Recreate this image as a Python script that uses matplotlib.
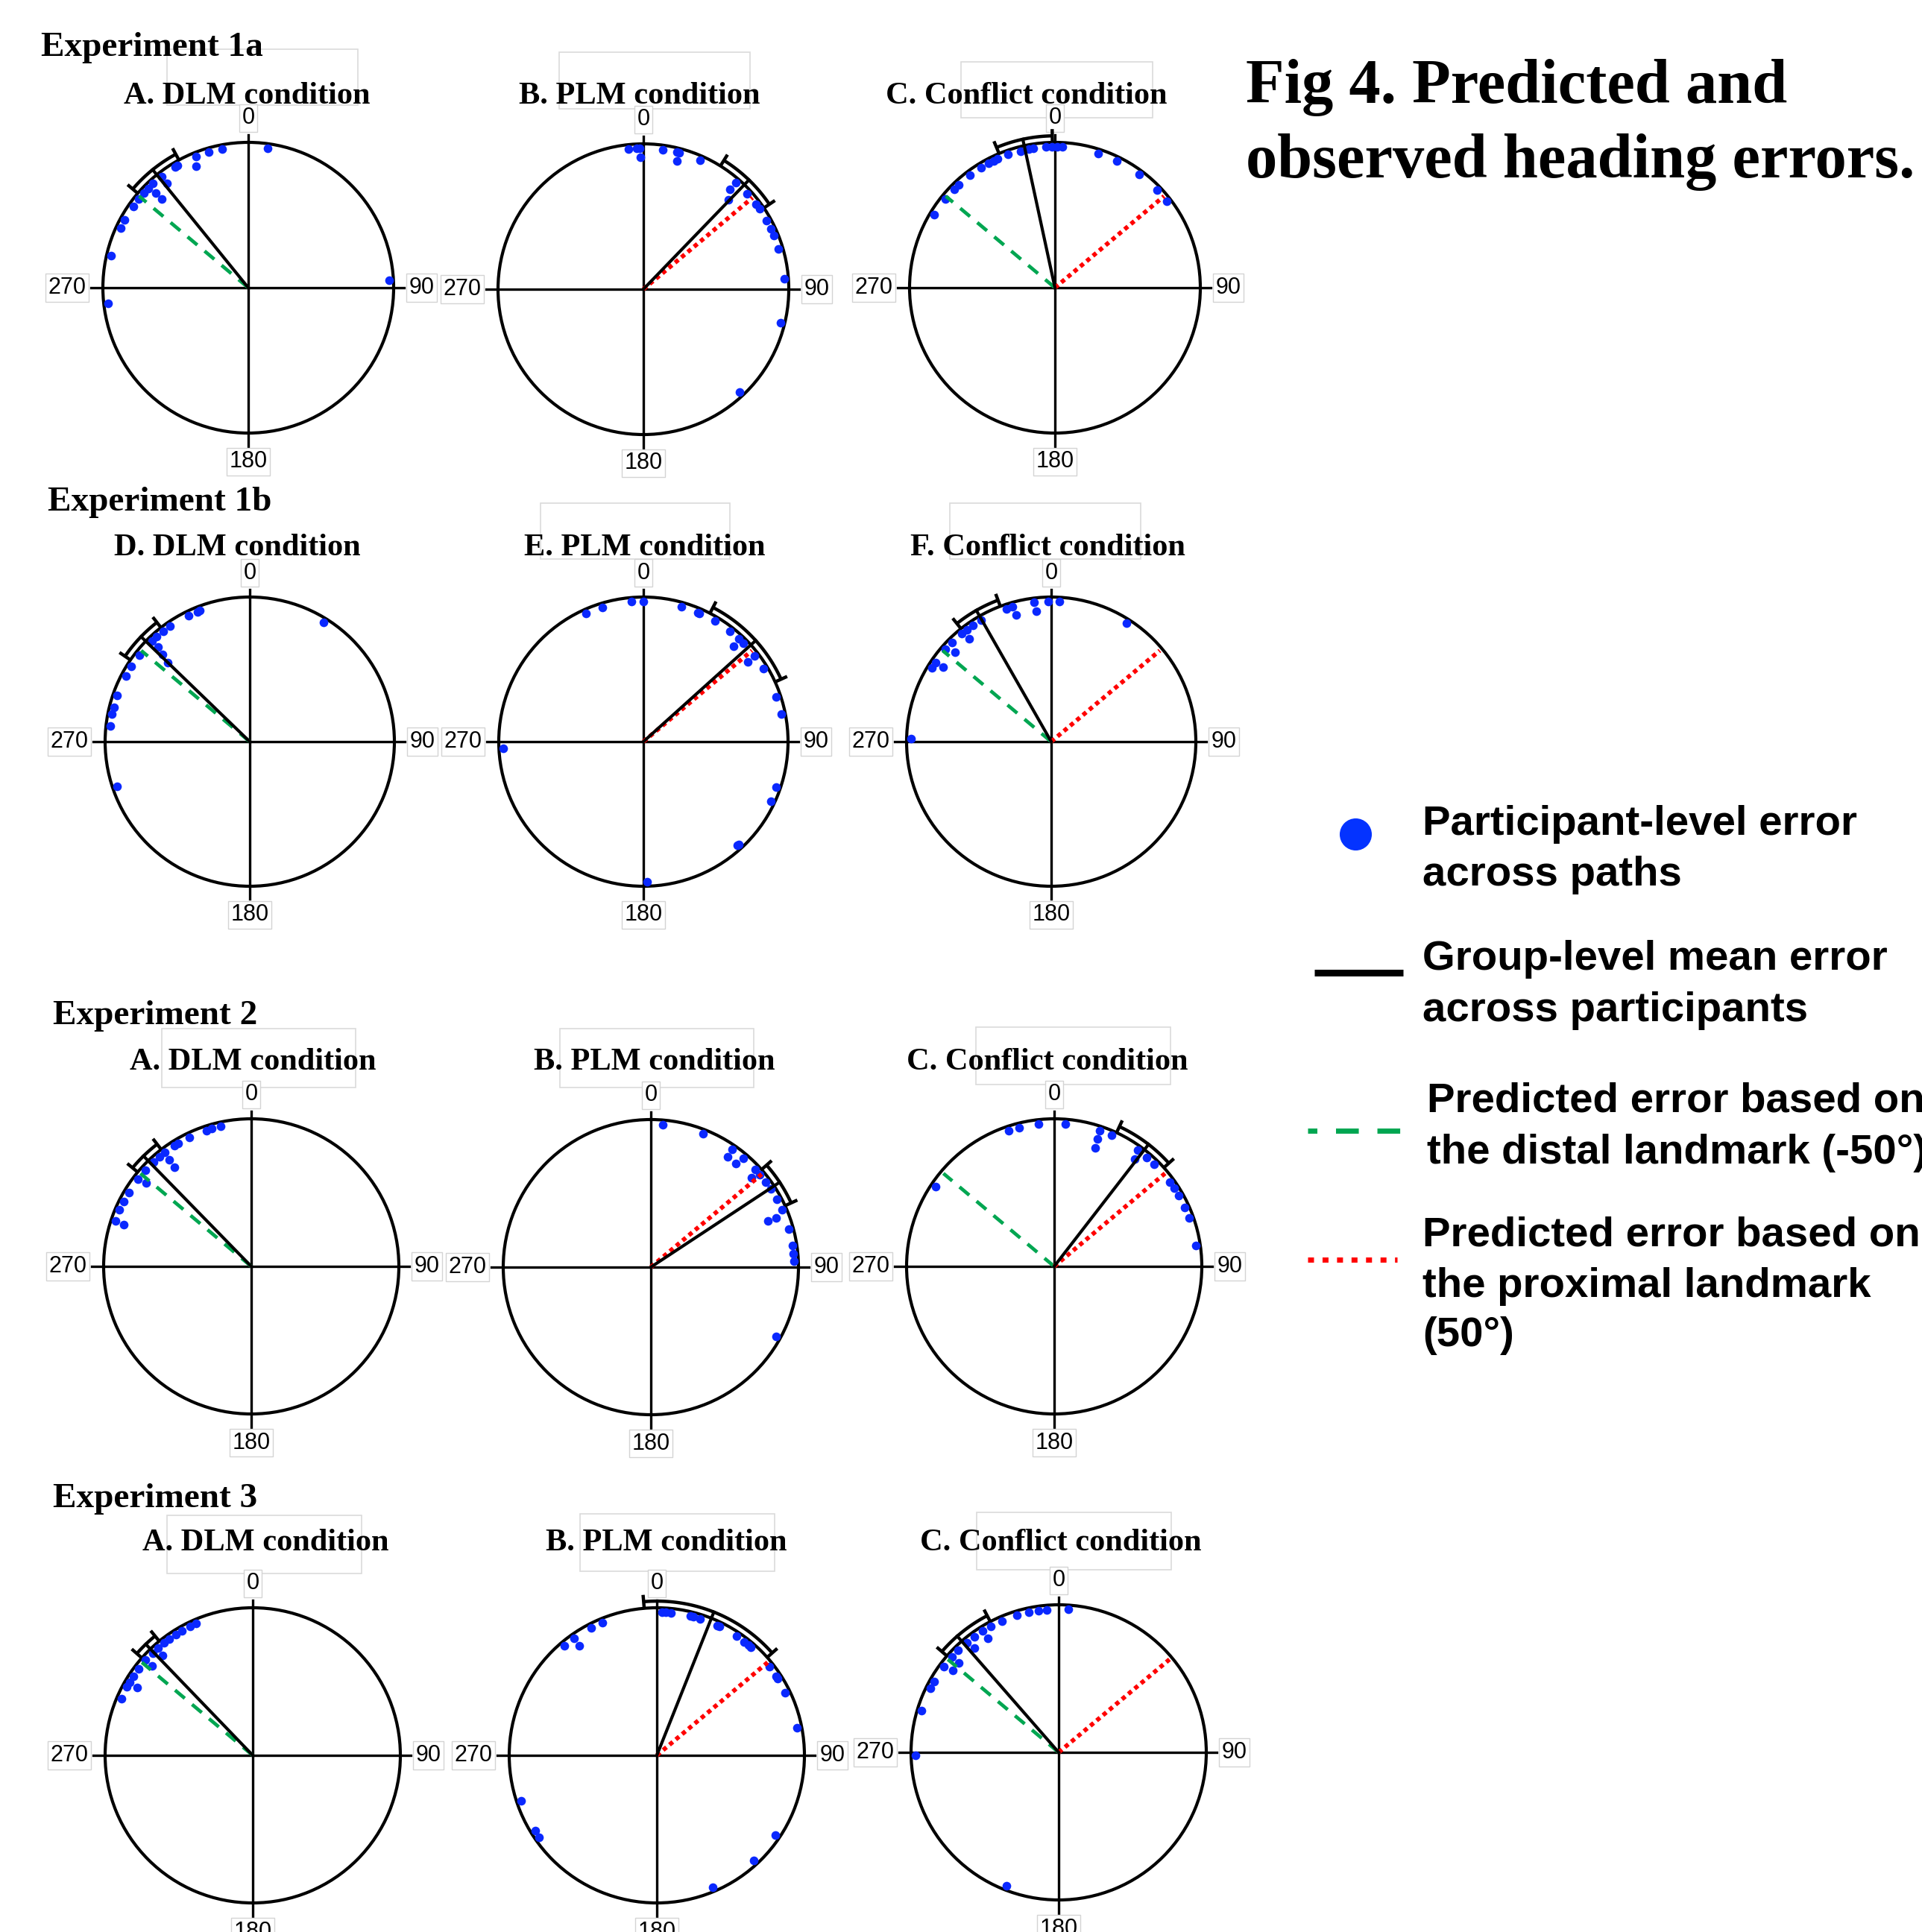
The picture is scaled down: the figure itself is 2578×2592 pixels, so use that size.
import numpy as np
import matplotlib.pyplot as plt
from matplotlib.patches import Rectangle

W, H = 2578, 2592

# heading errors (deg, clockwise from 0)
# *_in : points drawn one row inside the circle (stacked)
e1a_dlm = [8, -10.8, -16.2, -21.8, -30.1, -31.1, -38, -42.4, -45.3, -47.8, -51.2,
           -54.7, -61.1, -65, -77, -96.3, 87.1]
e1a_dlm_in = [-23.2, -37.9, -44.3, -44.2]
e1a_plm = [-6, -2.7, -1.4, 8, 13.7, 14.7, 23.7, 41, 47.3, 52.8, 55.3, 60.8, 64.6,
           67.7, 73.4, 85.9, 103.7, 137]
e1a_plm_in = [-1.2, 14.6, 40.8, 43.6]
e1a_con = [-58.8, -51, -45.6, -43, -37, -31.7, -28.2, -25.7, -23.9, -19.3, -14.2,
           -10.6, -8.7, -3.5, -1.2, 1, 3, 17.9, 26.1, 36.5, 46.2, 52.3]
e1a_con_in = []

e1b_dlm = [-20.7, -22, -25.9, 31.9, -34.7, -38.2, -41.7, -44, -52, -57.4, -62.2,
           -70.9, -75.7, -78.8, -83.6, -108.6]
e1b_dlm_in = [-44, -45, -46]
e1b_plm = [-24.1, -16.9, -4.8, 0, 15.6, 22.9, 23.6, 30.6, 38, 42.8, 45.6, 52.5,
           58.6, 71.5, 78.7, -92.6, 109, 115, 137, 137.8, 178.4]
e1b_plm_in = [43.4, 52.6]
e1b_con = [-88.7, -58.3, -55.7, -48.8, -44.9, -39.7, -36.9, -33.8, -29.9, -18.7,
           -15.9, -7.1, -1.3, 3.3, 32.4]
e1b_con_in = [-55.4, -47, -38.7, -15.3, -6.6]

e2_dlm = [-12.2, -16, -18.2, -25.5, -30.8, -32.6, -37.2, -39.9, -43, -47.7, -52.5,
          -58.9, -63.1, -66.8, -71.5]
e2_dlm_in = [-37.7, -37.6, -51.5, -72]
e2_plm = [4.9, 21.5, 34.6, 40.4, 46.8, 49.7, 53.5, 56.7, 61.7, 66.4, 74.5, 81.4,
          84.6, 87.6, 118.9]
e2_plm_in = [34.7, 39.4, 48.4, 68.5, 68.5]
e2_con = [-56.1, -18.4, -14.3, -6.2, 4.6, 18.5, 23.6, 35.8, 40.4, 44.3, 54, 56.8,
          60.4, 65.8, 70.3, 81.6]
e2_con_in = [18.7, 18.9, 36.7]

e3_dlm = [-23.2, -25.9, -29.5, -32.4, -35.5, -38.2, -41.5, -44.4, -48.4, -52.8,
          -56.5, -59.4, -61.4, -66.7]
e3_dlm_in = [-42, -48.4, -59.6]
e3_plm = [2, 3.6, 5.7, 13.5, 14.9, 17.7, 25, 25.8, 33.7, 37.5, 39.7, 41, 51.9, 56.6,
          57.5, 63.9, 78.8, 123.9, 137.2, 157, -108.6, -121.8, -124.9, -40.1, -35.3,
          -27.3, -22.2]
e3_plm_in = [-35.3]
e3_con = [-91.2, -73.1, -63.4, -60.3, -53.2, -48.2, -44.5, -39.9, -36.2, -32.2,
          -28.3, -23.3, -17.1, -12, -8, -4.8, 3.9, -158.7]
e3_con_in = [-52.2, -48.2, -38.8, -31.9]

# group mean and its confidence arc
means = [[-39, 44, -12.2], [-46, 48, -29.7], [-44.3, 56.6, 37.7], [-43.9, 21.7, -41.1]]
cis = [[(-49.5, -28.5), (32, 56), (-22.6, -1)],
       [(-55.6, -37.9), (27.4, 65.6), (-38.6, -20.6)],
       [(-50.3, -37.6), (48.6, 65.4), (25, 48)],
       [(-48.7, -39.3), (-4.9, 48.4), (-49.2, -27.6)]]

pred_distal = -50
pred_proximal = 50

points = [[e1a_dlm, e1a_plm, e1a_con], [e1b_dlm, e1b_plm, e1b_con],
          [e2_dlm, e2_plm, e2_con], [e3_dlm, e3_plm, e3_con]]
points_in = [[e1a_dlm_in, e1a_plm_in, e1a_con_in], [e1b_dlm_in, e1b_plm_in, e1b_con_in],
             [e2_dlm_in, e2_plm_in, e2_con_in], [e3_dlm_in, e3_plm_in, e3_con_in]]

row_titles = ["Experiment 1a", "Experiment 1b", "Experiment 2", "Experiment 3"]
panel_titles = [["A. DLM condition", "B. PLM condition", "C. Conflict condition"],
                ["D. DLM condition", "E. PLM condition", "F. Conflict condition"],
                ["A. DLM condition", "B. PLM condition", "C. Conflict condition"],
                ["A. DLM condition", "B. PLM condition", "C. Conflict condition"]]

# layout (pixels)
centers = [[(333, 386), (863, 388), (1415, 386)],
           [(335, 995), (863, 995), (1410, 995)],
           [(337, 1699), (873, 1700), (1414, 1699)],
           [(339, 2355), (881, 2355), (1420, 2351)]]
radius_px = [195, 194, 198, 198]
row_title_pos = [(55, 75), (64, 685), (71, 1374), (71, 2022)]
panel_title_x = [[331, 858, 1377], [318, 865, 1405], [339, 878, 1405], [356, 894, 1423]]
panel_title_y = [139, 745, 1435, 2080]
# faint text-frame outlines left around the titles (x0, y0, x1, y1)
frames = [(224, 66, 480, 141), (750, 70, 1006, 146), (1289, 83, 1546, 158),
          (725, 675, 979, 750), (1274, 675, 1530, 750),
          (217, 1380, 477, 1459), (751, 1380, 1011, 1459), (1309, 1378, 1570, 1455),
          (224, 2033, 485, 2111), (778, 2031, 1039, 2108), (1310, 2029, 1571, 2106)]

BLUE = '#0a28ff'
GREEN = '#00a651'
RED = '#ff0000'
SERIF = 'Liberation Serif'
SANS = 'Liberation Sans'

fig = plt.figure(figsize=(W / 100, H / 100), dpi=100)
fig.patch.set_facecolor('white')


def fx(x):
    return x / W


def fy(y):
    return 1 - y / H


def stack_radii(vals):
    rr = []
    for i, a in enumerate(vals):
        k = sum(abs(a - b) < 4 for b in vals[:i])
        rr.append(0.91 - 0.06 * k)
    return rr


# background layer for the faint frames
bg = fig.add_axes([0, 0, 1, 1], zorder=-1)
bg.set_xlim(0, W)
bg.set_ylim(H, 0)
bg.axis('off')
for x0, y0, x1, y1 in frames:
    bg.add_patch(Rectangle((x0, y0), x1 - x0, y1 - y0, fill=False, ec='#dadada', lw=1.2))

lbl_box = dict(boxstyle='square,pad=0.12', fc='white', ec='#d4d4d4', lw=1.0)
LBL = 22

for i in range(4):
    r = radius_px[i]
    for j in range(3):
        cx, cy = centers[i][j]
        ax = fig.add_axes([fx(cx - r), fy(cy + r), 2 * r / W, 2 * r / H],
                          projection='polar')
        ax.patch.set_alpha(0)
        ax.set_theta_zero_location('N')
        ax.set_theta_direction(-1)
        ax.set_ylim(0, 1)
        ax.set_xticks([])
        ax.set_yticks([])
        ax.grid(False)
        ax.spines['polar'].set_linewidth(3.0)
        ax.spines['polar'].set_color('black')

        # cross lines
        for th, rend in [(0, 1.05), (90, 1.07), (180, 1.09), (270, 1.08)]:
            ax.plot([np.radians(th)] * 2, [0, rend], color='black', lw=2.4,
                    clip_on=False, zorder=2)
        ax.text(0, 1.09, '0', ha='center', va='bottom', fontsize=LBL,
                family=SANS, bbox=lbl_box, clip_on=False)
        ax.text(np.radians(90), 1.105, '90', ha='left', va='center', fontsize=LBL,
                family=SANS, bbox=lbl_box, clip_on=False)
        ax.text(np.radians(180), 1.12, '180', ha='center', va='top', fontsize=LBL,
                family=SANS, bbox=lbl_box, clip_on=False)
        ax.text(np.radians(270), 1.115, '270', ha='right', va='center', fontsize=LBL,
                family=SANS, bbox=lbl_box, clip_on=False)

        # participant points
        pts = points[i][j]
        ax.plot(np.radians(pts), [0.97] * len(pts), 'o', ms=8.4, color=BLUE,
                mec='none', clip_on=False, zorder=3)
        pin = points_in[i][j]
        if pin:
            ax.plot(np.radians(pin), stack_radii(pin), 'o', ms=8.4, color=BLUE,
                    mec='none', clip_on=False, zorder=3)

        # predictions
        if j in (0, 2):
            ax.plot([np.radians(pred_distal)] * 2, [0, 0.98], color=GREEN, lw=3.4,
                    ls=(0, (3.6, 2.7)), clip_on=False, zorder=4)
        if j in (1, 2):
            ax.plot([np.radians(pred_proximal)] * 2, [0, 0.98], color=RED, lw=4.2,
                    ls=(0, (1.0, 0.9)), clip_on=False, zorder=4)

        # group mean + CI arc
        m = means[i][j]
        lo, hi = cis[i][j]
        ax.plot([np.radians(m)] * 2, [0, 1.045], color='black', lw=3.0,
                clip_on=False, zorder=5)
        arc = np.radians(np.linspace(lo, hi, 80))
        ax.plot(arc, [1.045] * len(arc), color='black', lw=3.2, clip_on=False,
                zorder=5, solid_capstyle='butt')
        for e in (lo, hi):
            ax.plot([np.radians(e)] * 2, [1.015, 1.08], color='black', lw=3.2,
                    clip_on=False, zorder=5)

        fig.text(fx(panel_title_x[i][j]), fy(panel_title_y[i]), panel_titles[i][j],
                 ha='center', va='baseline', fontsize=30.5, fontweight='bold',
                 family=SERIF)

    fig.text(fx(row_title_pos[i][0]), fy(row_title_pos[i][1]), row_titles[i],
             ha='left', va='baseline', fontsize=34, fontweight='bold', family=SERIF)

# figure title
fig.text(fx(1671), fy(138), "Fig 4. Predicted and", ha='left', va='baseline',
         fontsize=60.8, fontweight='bold', family=SERIF)
fig.text(fx(1671), fy(238), "observed heading errors.", ha='left', va='baseline',
         fontsize=60.8, fontweight='bold', family=SERIF)

# legend
lg = fig.add_axes([0, 0, 1, 1])
lg.set_xlim(0, W)
lg.set_ylim(H, 0)
lg.axis('off')
lg.plot([1818], [1119], 'o', ms=31, color='#0433ff', mec='none')
lg.plot([1763, 1882], [1305, 1305], color='black', lw=6.5, solid_capstyle='butt')
lg.plot([1754, 1879], [1517, 1517], color=GREEN, lw=5, ls=(2.6, (4.4, 3.6)))
lg.plot([1754, 1874], [1690, 1690], color=RED, lw=5, ls=(0, (1.15, 1.65)))

legend_lines = [(1908, 1120, "Participant-level error"), (1908, 1188, "across paths"),
                (1908, 1301, "Group-level mean error"), (1908, 1370, "across participants"),
                (1914, 1492, "Predicted error based on"),
                (1914, 1561, "the distal landmark (-50°)"),
                (1908, 1671, "Predicted error based on"),
                (1908, 1740, "the proximal landmark"), (1908, 1806, "(50°)")]
for x, y, s in legend_lines:
    lg.text(x, y, s, ha='left', va='baseline', fontsize=40.6, fontweight='bold',
            family=SANS, clip_on=False)

fig.savefig('out.png', dpi=100, facecolor='white')
